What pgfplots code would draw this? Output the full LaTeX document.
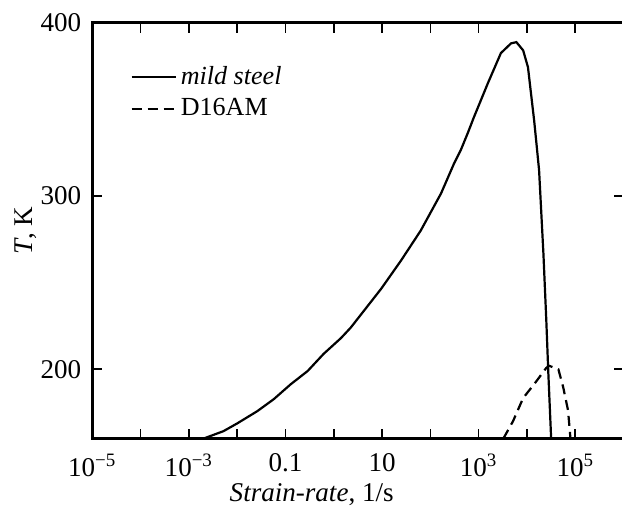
\documentclass[border=0pt]{standalone}
\usepackage{pgfplots}
\pgfplotsset{compat=1.18}
\usepackage{fontspec}
\setmainfont{Liberation Serif}
\begin{document}
\fontsize{13}{15}\selectfont
\begin{tikzpicture}
\begin{axis}[
  scale only axis,
  width=265pt, height=207.5pt,
  xmode=log, log basis x=10,
  xmin=1e-5, xmax=1e6,
  ymin=160, ymax=400,
  axis line style={line width=1.3pt},
  every tick/.style={black, line width=0.8pt},
  tick align=inside,
  major tick length=5pt, minor tick length=5pt,
  xtick={1e-5,1e-3,0.1,10,1e3,1e5},
  xticklabels={10\textsuperscript{−5},10\textsuperscript{−3},0.1,10,10\textsuperscript{3},10\textsuperscript{5}},
  minor xtick={1e-4,1e-2,1,100,1e4},
  ytick={200,300,400},
  yticklabels={200,300,400},
  xtick pos=both, ytick pos=both,
  tick label style={font=\fontsize{13.5}{15}\selectfont},
  xticklabel style={yshift=-3pt},
  yticklabel style={xshift=-1pt},
  xlabel={\textit{Strain-rate}, 1/s},
  ylabel={\textit{T}, K},
  label style={font=\fontsize{13.5}{15}\selectfont},
  x label style={at={(axis description cs:0.413,-0.152)}, anchor=base},
  y label style={at={(axis description cs:-0.126,0.5)}, anchor=center},
  legend style={draw=none, fill=none, at={(0.06,0.915)}, anchor=north west,
    font=\fontsize{13}{15}\selectfont, row sep=1pt},
  legend cell align=left,
  legend image code/.code={\draw[#1] (0pt,0pt) -- (22pt,0pt);},
]
\addplot[black, line width=1.1pt] coordinates {
(0.0020,160) (0.0052,164.3) (0.0102,168.9) (0.0263,175.9) (0.0575,182.8)
(0.129,191.4) (0.288,199) (0.617,208.9) (1.41,218) (2.24,224)
(9.55,246.4) (24.5,262.6) (63.1,280) (166,301.4) (309,318.7)
(427,326.5) (603,336.7) (794,345.3) (1549,365) (2884,382.4)
(4677,388) (6026,388.7) (8318,384) (10470,374.3) (14130,343)
(17780,315) (21880,266.7) (25120,228) (27540,199) (31620,160)
};
\addlegendentry{\textit{mild steel}}
\addplot[black, line width=1.1pt, dash pattern=on 5pt off 3pt] coordinates {
(3236,160) (5129,170) (8318,183.4) (14130,191.5) (25120,200.8)
(28840,202) (44670,200) (56230,189.6) (70790,176.3) (79430,160)
};
\addlegendentry{D16AM}
\end{axis}
\pgfresetboundingbox
\path ([xshift=-46pt,yshift=-35.75pt]current axis.south west) rectangle ([xshift=-0.8pt,yshift=11.25pt]current axis.north east);
\end{tikzpicture}
\end{document}
